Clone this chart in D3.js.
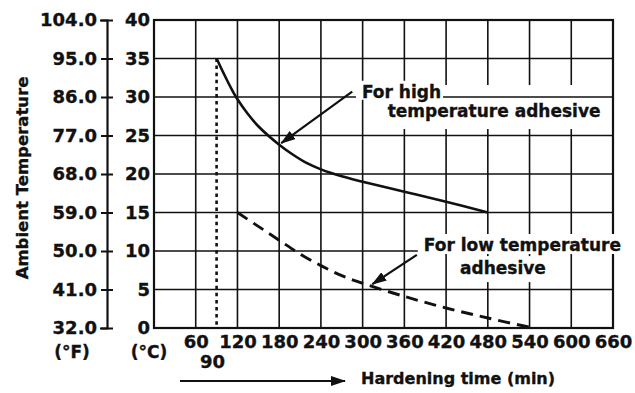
<!DOCTYPE html>
<html>
<head>
<meta charset="utf-8">
<script src="https://cdn.jsdelivr.net/npm/d3@7"></script>
<style>
  html, body { margin: 0; padding: 0; background: #fff; }
  svg { display: block; }
  text { font-family: "DejaVu Sans", sans-serif; font-weight: bold; fill: #111; stroke: #111; stroke-width: 0.35px; }
</style>
</head>
<body>
<svg id="chart" width="635" height="393"></svg>
<script>
// Hardening time (min) vs ambient temperature for two adhesive grades
const timeTicks = [0, 60, 120, 180, 240, 300, 360, 420, 480, 540, 600, 660];
const timeLabels = [60, 120, 180, 240, 300, 360, 420, 480, 540, 600, 660];
const celsiusTicks = [0, 5, 10, 15, 20, 25, 30, 35, 40];
const fahrenheitTicks = [32, 41, 50, 59, 68, 77, 86, 95, 104];

// [time (min), temperature (°C)]
const highTempAdhesive = [
  [90, 35], [100, 33.1], [110, 31.3], [120, 29.7], [135, 27.8], [150, 26.2],
  [180, 23.8], [200, 22.5], [220, 21.4], [240, 20.6], [270, 19.7], [300, 19.0],
  [360, 17.7], [420, 16.4], [480, 15]
];
const lowTempAdhesive = [
  [120, 15], [150, 13.2], [180, 11.4], [210, 9.6], [240, 8.1], [270, 6.8],
  [300, 5.8], [360, 4.1], [420, 2.6], [480, 1.3], [540, 0.1]
];
const guideTime = 90;        // minimum time marked under the axis
const guideTemp = 35;

// annotation callouts: text anchor and arrow (tail -> head) in data units
const highNote = { lines: ["For high", "temperature adhesive"], at: [[299, 29.9], [336, 27.4]],
                   tail: [285, 30.7], head: [183, 24.0] };
const lowNote  = { lines: ["For low temperature", "adhesive"], at: [[388, 10.0], [440, 7.0]],
                   tail: [378, 9.5], head: [314, 5.7] };

const svg = d3.select("#chart");
const plot = { left: 154, right: 613, top: 20, bottom: 328 };
const ink = "#111";

const x = d3.scaleLinear().domain([0, 660]).range([plot.left, plot.right]);
const yC = d3.scaleLinear().domain([0, 40]).range([plot.bottom, plot.top]);
const yF = d3.scaleLinear().domain([32, 104]).range([plot.bottom, plot.top]);

const defs = svg.append("defs");
defs.append("marker")
  .attr("id", "head").attr("viewBox", "0 0 15 10").attr("refX", 14).attr("refY", 5)
  .attr("markerWidth", 15).attr("markerHeight", 10).attr("markerUnits", "userSpaceOnUse")
  .attr("orient", "auto")
  .append("path").attr("d", "M0,0 L15,5 L0,10 Z").attr("fill", ink);

const fontSize = 18;
const noteSize = 17;

// vertical grid lines
const gVert = svg.append("g");
gVert.selectAll("line").data(timeTicks).join("line")
  .attr("x1", d => x(d)).attr("x2", d => x(d))
  .attr("y1", plot.top).attr("y2", plot.bottom)
  .attr("stroke", ink).attr("stroke-width", 1.6);

function addText(g, str, pos, size) {
  return g.append("text").attr("x", x(pos[0])).attr("y", yC(pos[1]))
    .attr("font-size", size).text(str);
}

// layers so the callout boxes can sit between grid passes
const boxUnder = svg.append("g");
const gHorz = svg.append("g");
const boxOver = svg.append("g");
const gCurves = svg.append("g");
const gText = svg.append("g");

// horizontal grid lines and frame
gHorz.selectAll("line").data(celsiusTicks).join("line")
  .attr("x1", plot.left).attr("x2", plot.right)
  .attr("y1", d => yC(d)).attr("y2", d => yC(d))
  .attr("stroke", ink).attr("stroke-width", 1.7);
gHorz.append("rect")
  .attr("x", plot.left).attr("y", plot.top)
  .attr("width", plot.right - plot.left).attr("height", plot.bottom - plot.top)
  .attr("fill", "none").attr("stroke", ink).attr("stroke-width", 2.2);

// callout texts
const tHigh1 = addText(gText, highNote.lines[0], highNote.at[0], noteSize);
const tHigh2 = addText(gText, highNote.lines[1], highNote.at[1], noteSize);
const tLow1 = addText(gText, lowNote.lines[0], lowNote.at[0], noteSize);
const tLow2 = addText(gText, lowNote.lines[1], lowNote.at[1], noteSize);

function whiteBox(g, t, padL, padR, padT, padB) {
  const b = t.node().getBBox();
  g.append("rect").attr("x", b.x - padL).attr("y", b.y - padT)
    .attr("width", b.width + padL + padR).attr("height", b.height + padT + padB)
    .attr("fill", "#fff");
}
// the wide second line hides the vertical rules only; the others hide everything
whiteBox(boxUnder, tHigh2, 12, 8, 16, 8);
whiteBox(boxOver, tHigh1, 6, 2, 1, -2);
whiteBox(boxOver, tLow1, 6, 6, 1, -1);
whiteBox(boxOver, tLow2, 6, 6, 2, 4);

// 90 min guide line
gCurves.append("line")
  .attr("x1", x(guideTime)).attr("x2", x(guideTime))
  .attr("y1", yC(guideTemp)).attr("y2", yC(0))
  .attr("stroke", ink).attr("stroke-width", 2.6).attr("stroke-dasharray", "3.5 3.6");

const line = d3.line().x(d => x(d[0])).y(d => yC(d[1])).curve(d3.curveCatmullRom);
gCurves.append("path").attr("d", line(highTempAdhesive))
  .attr("fill", "none").attr("stroke", ink).attr("stroke-width", 2.6);
gCurves.append("path").attr("d", line(lowTempAdhesive))
  .attr("fill", "none").attr("stroke", ink).attr("stroke-width", 2.9)
  .attr("stroke-dasharray", "12 7");

[highNote, lowNote].forEach(n => {
  gCurves.append("line")
    .attr("x1", x(n.tail[0])).attr("y1", yC(n.tail[1]))
    .attr("x2", x(n.head[0])).attr("y2", yC(n.head[1]))
    .attr("stroke", ink).attr("stroke-width", 2.2).attr("marker-end", "url(#head)");
});

function styleLabels(sel, size) {
  sel.attr("font-size", size).attr("font-family", null).attr("fill", ink);
}

// °C axis labels
const axC = svg.append("g").attr("transform", `translate(${plot.left},0)`)
  .call(d3.axisLeft(yC).tickValues(celsiusTicks).tickSize(0).tickPadding(4).tickFormat(d3.format("d")));
axC.select(".domain").remove();
styleLabels(axC.selectAll("text"), fontSize);

// °F axis with crossing ticks
const fAxisX = 107;
const axF = svg.append("g").attr("transform", `translate(${fAxisX},0)`)
  .call(d3.axisLeft(yF).tickValues(fahrenheitTicks).tickSizeOuter(0).tickSize(7).tickPadding(3).tickFormat(d3.format(".1f")));
axF.select(".domain").attr("stroke", ink).attr("stroke-width", 2.2);
axF.selectAll(".tick line").attr("x1", 6).attr("x2", -6).attr("stroke", ink).attr("stroke-width", 2);
styleLabels(axF.selectAll("text"), fontSize);
axF.selectAll("text").attr("x", -10);

// time axis labels
const axT = svg.append("g").attr("transform", `translate(0,${plot.bottom})`)
  .call(d3.axisBottom(x).tickValues(timeLabels).tickSize(0).tickPadding(7).tickFormat(d3.format("d")));
axT.select(".domain").remove();
styleLabels(axT.selectAll("text"), fontSize);

svg.append("text").attr("x", x(guideTime) - 4).attr("y", 368)
  .attr("text-anchor", "middle").attr("font-size", fontSize).text(String(guideTime));

// unit captions
svg.append("text").attr("x", 72).attr("y", 358).attr("text-anchor", "middle")
  .attr("font-size", 17).text("(°F)");
svg.append("text").attr("x", 149).attr("y", 358).attr("text-anchor", "middle")
  .attr("font-size", 17).text("(°C)");

svg.append("text")
  .attr("transform", "translate(28,178) rotate(-90)")
  .attr("text-anchor", "middle").attr("font-size", 16.5).text("Ambient Temperature");

// direction arrow and axis title
svg.append("line").attr("x1", 180).attr("x2", 345).attr("y1", 381).attr("y2", 381)
  .attr("stroke", ink).attr("stroke-width", 2.2).attr("marker-end", "url(#head)");
svg.append("text").attr("x", 361).attr("y", 384).attr("font-size", 16).text("Hardening time (min)");
</script>
</body>
</html>
